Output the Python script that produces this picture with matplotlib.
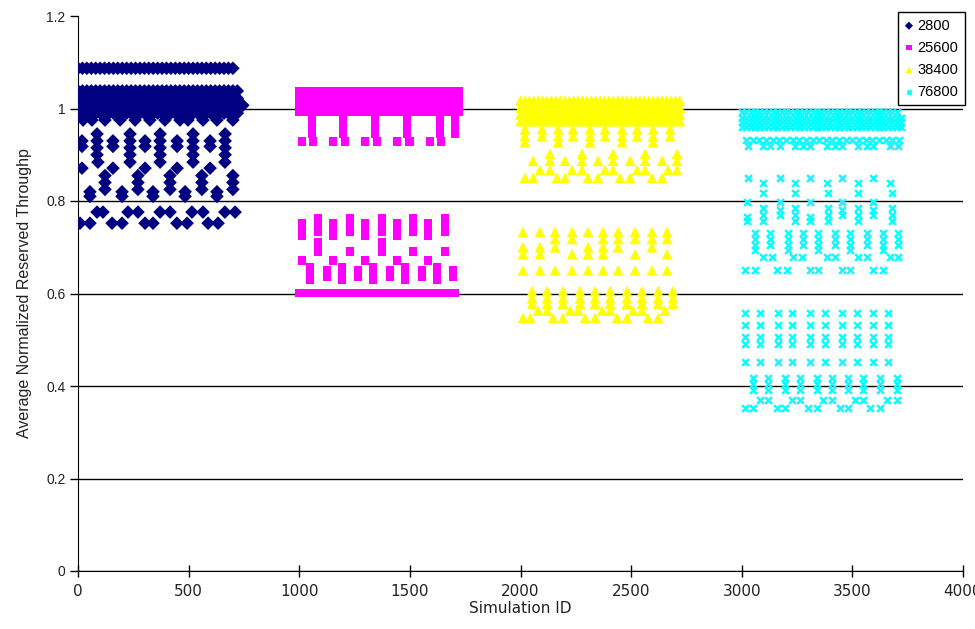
import matplotlib
matplotlib.use("Agg")
import matplotlib.pyplot as plt

plt.rcParams['font.family'] = ['Liberation Sans', 'DejaVu Sans']

# simulation ids used for the dense bands of each run
ids_2800 = [0, 20, 40, 60, 80, 100, 120, 140, 160, 180, 200, 220, 240, 260, 280, 300, 320, 340,
            360, 380, 400, 420, 440, 460, 480, 500, 520, 540, 560, 580, 600, 620, 640, 660, 680, 700, 720]
ids_25600 = [1000, 1020, 1040, 1060, 1080, 1100, 1120, 1140, 1160, 1180, 1200, 1220, 1240, 1260, 1280,
             1300, 1320, 1340, 1360, 1380, 1400, 1420, 1440, 1460, 1480, 1500, 1520, 1540, 1560, 1580,
             1600, 1620, 1640, 1660, 1680, 1700, 1720]
ids_38400 = [2000, 2020, 2040, 2060, 2080, 2100, 2120, 2140, 2160, 2180, 2200, 2220, 2240, 2260, 2280,
             2300, 2320, 2340, 2360, 2380, 2400, 2420, 2440, 2460, 2480, 2500, 2520, 2540, 2560, 2580,
             2600, 2620, 2640, 2660, 2680, 2700, 2720]
ids_76800 = [3000, 3020, 3040, 3060, 3080, 3100, 3120, 3140, 3160, 3180, 3200, 3220, 3240, 3260, 3280,
             3300, 3320, 3340, 3360, 3380, 3400, 3420, 3440, 3460, 3480, 3500, 3520, 3540, 3560, 3580,
             3600, 3620, 3640, 3660, 3680, 3700, 3720]

# (throughput, simulation ids) rows
rows_2800 = [
    (1.087, ids_2800[:-1]), (1.038, ids_2800), (1.022, ids_2800), (1.007, ids_2800 + [745]), (0.99, ids_2800),
    (0.975, [23, 63, 122, 190, 258, 325, 393, 461, 497, 565, 628, 700]),
    (0.93, [18, 158, 303, 448, 597]), (0.918, [18, 158, 303, 448, 597]),
    (0.945, [86, 235, 371, 520, 665]), (0.93, [86, 235, 371, 520, 665]),
    (0.915, [86, 235, 371, 520, 665]), (0.90, [86, 235, 371, 520, 665]),
    (0.884, [90, 235, 371, 520, 664]),
    (0.871, [18, 158, 303, 448, 597]),
    (0.855, [122, 271, 416, 560, 700]), (0.84, [122, 271, 416, 560, 700]), (0.825, [122, 271, 416, 560, 700]),
    (0.82, [54, 199, 339, 484, 628]), (0.81, [54, 199, 339, 484, 628]),
    (0.776, [86, 113, 226, 271, 371, 416, 515, 565, 664, 710]),
    (0.752, [9, 54, 154, 199, 303, 339, 447, 493, 588, 633]),
]
rows_25600 = [
    (1.036, ids_25600), (1.022, ids_25600), (1.008, ids_25600), (0.993, ids_25600),
    (0.975, [1058, 1198, 1342, 1487, 1636, 1704]), (0.96, [1058, 1198, 1342, 1487, 1636, 1704]),
    (0.945, [1058, 1198, 1342, 1487, 1636, 1704]),
    (0.928, [1012, 1062, 1153, 1207, 1297, 1351, 1442, 1500, 1591, 1641]),
    (0.763, [1085, 1229, 1374, 1514, 1659]), (0.748, [1085, 1229, 1374, 1514, 1659]),
    (0.733, [1085, 1229, 1374, 1514, 1659]),
    (0.752, [1012, 1153, 1297, 1442, 1582]), (0.738, [1012, 1153, 1297, 1442, 1582]),
    (0.726, [1012, 1153, 1297, 1442, 1582]),
    (0.711, [1085, 1374]),
    (0.69, [1085, 1229, 1374, 1514, 1659]),
    (0.672, [1012, 1153, 1297, 1442, 1582]),
    (0.657, [1049, 1193, 1333, 1478, 1623]), (0.643, [1049, 1193, 1333, 1478, 1623]),
    (0.629, [1049, 1193, 1333, 1478, 1623]),
    (0.65, [1125, 1266, 1410, 1555, 1695]), (0.636, [1125, 1266, 1410, 1555, 1695]),
    (0.601, ids_25600[:-1]),
]
rows_38400 = [
    (1.017, ids_38400), (1.002, ids_38400), (0.987, ids_38400), (0.973, ids_38400),
    (0.955, [2020, 2097, 2170, 2237, 2314, 2382, 2459, 2527, 2599, 2676]),
    (0.94, [2020, 2097, 2170, 2237, 2314, 2382, 2459, 2527, 2599, 2676]),
    (0.927, [2020, 2170, 2314, 2459, 2599]),
    (0.902, [2133, 2278, 2418, 2563, 2707]),
    (0.887, [2057, 2133, 2201, 2278, 2350, 2418, 2495, 2563, 2640, 2707]),
    (0.867, [2088, 2133, 2233, 2278, 2382, 2418, 2527, 2563, 2667, 2707]),
    (0.85, [2020, 2057, 2165, 2201, 2305, 2350, 2450, 2495, 2594, 2640]),
    (0.733, [2011, 2088, 2156, 2233, 2305, 2373, 2441, 2518, 2594, 2662]),
    (0.718, [2156, 2233, 2373, 2441, 2518, 2594, 2662]),
    (0.70, [2011, 2088, 2156, 2305, 2373, 2441, 2594]),
    (0.685, [2011, 2088, 2233, 2305, 2373, 2518, 2662]),
    (0.65, [2011, 2088, 2156, 2233, 2305, 2373, 2441, 2518, 2594, 2662]),
    (0.605, [2052, 2120, 2192, 2269, 2337, 2405, 2481, 2549, 2622, 2689]),
    (0.59, [2052, 2120, 2192, 2269, 2337, 2405, 2481, 2549, 2622, 2689]),
    (0.578, [2052, 2120, 2192, 2269, 2337, 2405, 2481, 2549, 2622, 2689]),
    (0.563, [2079, 2120, 2224, 2260, 2368, 2405, 2509, 2549, 2653]),
    (0.547, [2011, 2043, 2147, 2192, 2292, 2337, 2436, 2481, 2576, 2622]),
]
rows_76800 = [
    (0.992, ids_76800[:-1]), (0.98, ids_76800), (0.97, ids_76800), (0.96, ids_76800),
    (0.932, [3020, 3050, 3080, 3110, 3140, 3170, 3200, 3230, 3260, 3290, 3320, 3350, 3380, 3410,
             3440, 3470, 3500, 3530, 3560, 3590, 3620, 3650, 3680, 3710]),
    (0.92, [3028, 3096, 3128, 3173, 3241, 3277, 3309, 3385, 3422, 3453, 3526, 3566, 3593, 3670, 3706]),
    (0.85, [3028, 3173, 3309, 3453, 3593]),
    (0.839, [3096, 3241, 3385, 3526, 3670]),
    (0.817, [3096, 3241, 3390, 3526, 3679]),
    (0.798, [3024, 3173, 3309, 3453, 3593]),
    (0.785, [3096, 3241, 3390, 3526, 3679]), (0.77, [3096, 3241, 3390, 3526, 3679, 3173, 3453, 3593]),
    (0.757, [3096, 3241, 3390, 3526, 3679, 3024, 3309]),
    (0.765, [3024, 3309]), (0.78, [3173, 3453, 3593]),
    (0.73, [3060, 3128, 3209, 3277, 3345, 3422, 3489, 3566, 3639, 3706]),
    (0.718, [3060, 3128, 3209, 3277, 3345, 3422, 3489, 3566, 3639, 3706]),
    (0.705, [3060, 3128, 3209, 3277, 3345, 3422, 3489, 3566, 3639, 3706]),
    (0.694, [3060, 3209, 3345, 3489, 3639]),
    (0.679, [3096, 3137, 3232, 3272, 3385, 3422, 3526, 3566, 3670, 3706]),
    (0.651, [3015, 3060, 3159, 3205, 3309, 3345, 3453, 3489, 3593, 3639]),
    (0.558, [3015, 3083, 3164, 3227, 3309, 3376, 3453, 3521, 3593, 3661]),
    (0.532, [3015, 3083, 3164, 3227, 3309, 3376, 3453, 3521, 3593, 3661]),
    (0.505, [3015, 3083, 3164, 3227, 3309, 3376, 3453, 3521, 3593, 3661]),
    (0.49, [3015, 3083, 3164, 3227, 3309, 3376, 3453, 3521, 3593, 3661]),
    (0.452, [3015, 3083, 3164, 3227, 3309, 3376, 3453, 3521, 3593, 3661]),
    (0.418, [3051, 3119, 3196, 3263, 3340, 3408, 3480, 3548, 3625, 3702]),
    (0.405, [3051, 3119, 3196, 3263, 3340, 3408, 3480, 3548, 3625, 3702]),
    (0.392, [3051, 3119, 3196, 3263, 3340, 3408, 3480, 3548, 3625, 3702]),
    (0.37, [3083, 3119, 3227, 3263, 3367, 3408, 3512, 3548, 3657, 3702]),
    (0.352, [3015, 3051, 3159, 3196, 3300, 3340, 3444, 3480, 3580, 3625]),
]

labels = ['2800', '25600', '38400', '76800']
colors = ['#000080', '#FF00FF', '#FFFF00', '#00FFFF']
markers = ['D', 's', '^', 'x']
sizes = [48, 40, 60, 24]


def flatten(rows):
    xs, ys = [], []
    for y, ids in rows:
        xs += ids
        ys += [y] * len(ids)
    return xs, ys


fig = plt.figure(figsize=(9.75, 6.29), dpi=100)
ax = fig.add_axes([78/975, 58/629, 885/975, 555/629])

for rows, lab, c, m, s in zip([rows_2800, rows_25600, rows_38400, rows_76800], labels, colors, markers, sizes):
    xs, ys = flatten(rows)
    if m == 'x':
        ax.scatter(xs, ys, s=s, marker=m, color=c, linewidths=1.7, label=lab, zorder=3)
    else:
        ax.scatter(xs, ys, s=s, marker=m, color=c, edgecolors='none', label=lab, zorder=3)

ax.set_xlim(0, 4000)
ax.set_ylim(0, 1.2)
ax.set_xticks([0, 500, 1000, 1500, 2000, 2500, 3000, 3500, 4000])
ax.set_yticks([0, 0.2, 0.4, 0.6, 0.8, 1.0, 1.2])
ax.set_yticklabels(['0', '0.2', '0.4', '0.6', '0.8', '1', '1.2'], fontsize=10, color='#222222')
ax.set_xticklabels(['0', '500', '1000', '1500', '2000', '2500', '3000', '3500', '4000'],
                   fontsize=11, family='Liberation Sans Narrow', color='#222222')
ax.tick_params(axis='y', direction='out', length=6, width=1, pad=3)
ax.tick_params(axis='x', direction='inout', length=8, width=1, pad=5)

ax.set_axisbelow(True)
ax.yaxis.grid(True, color='black', linewidth=1)
ax.yaxis.get_gridlines()[-1].set_visible(False)
ax.spines['top'].set_visible(False)
ax.spines['right'].set_visible(False)

ax.set_xlabel('Simulation ID', fontsize=11, family='Liberation Sans Narrow', labelpad=2, color='#222222')
ax.set_ylabel('Average Normalized Reserved Throughp', fontsize=11.5, labelpad=10, color='#222222')

leg = ax.legend(loc='upper left', bbox_to_anchor=(898/975, 1 - 12/629), bbox_transform=fig.transFigure,
                fancybox=False, framealpha=1, edgecolor='black', fontsize=10.5, borderaxespad=0,
                handlelength=0.6, handletextpad=0.3, labelspacing=0.55, borderpad=0.45, markerscale=0.6)
leg.get_frame().set_linewidth(1)

plt.savefig('out.png', dpi=100)
